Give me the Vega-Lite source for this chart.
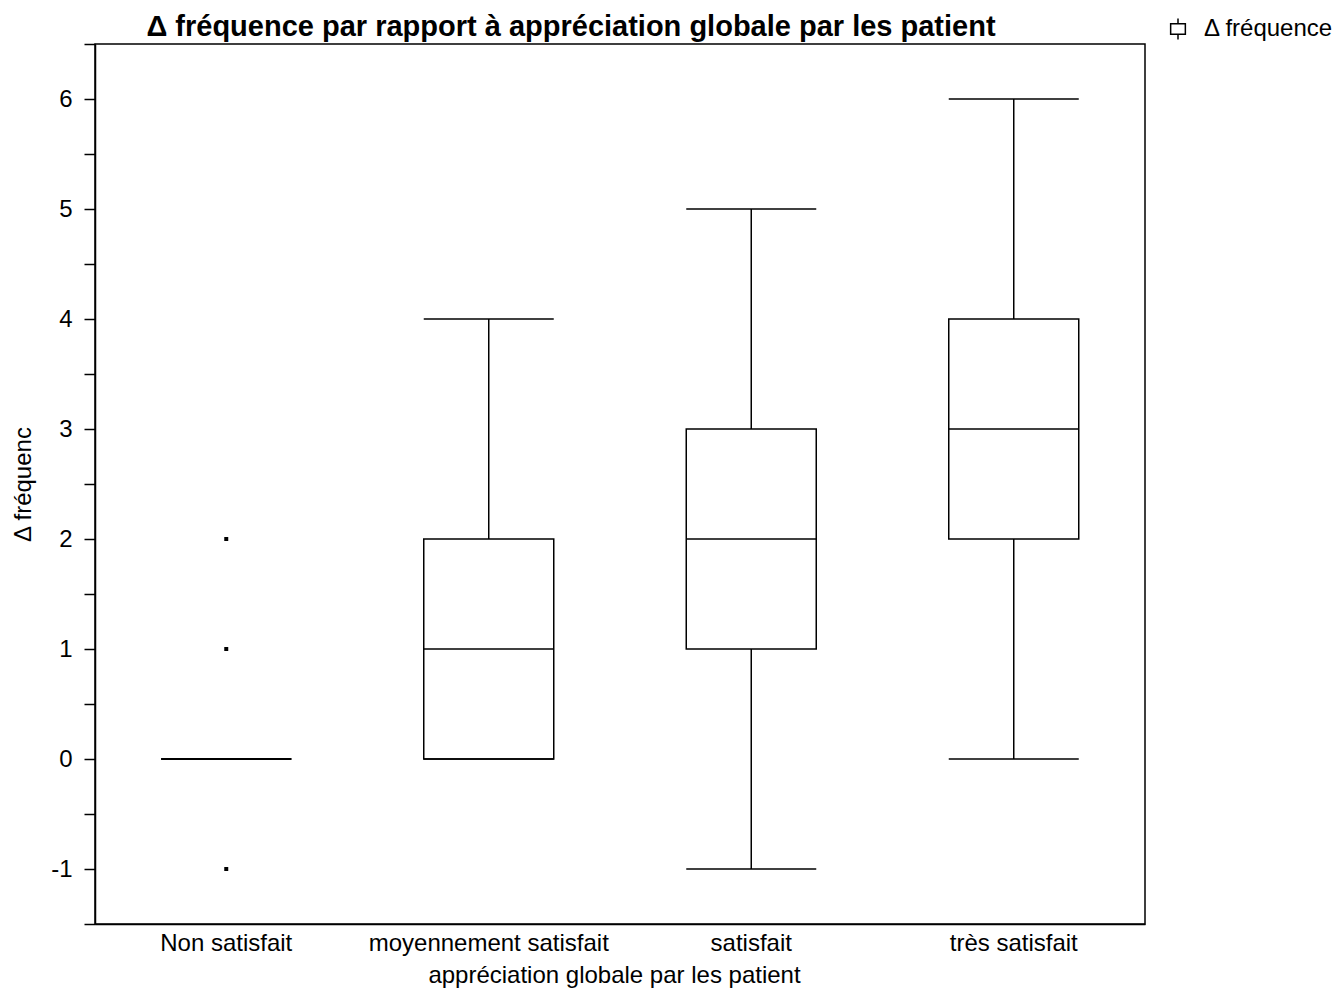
{
  "$schema": "https://vega.github.io/schema/vega-lite/v6.json",
  "width": 1050,
  "height": 880,
  "autosize": {"type": "none"},
  "padding": {"left": 95, "top": 44, "right": 188, "bottom": 65},
  "background": "white",
  "config": {
    "font": "Liberation Sans",
    "view": {"stroke": "black", "strokeWidth": 1.5},
    "axis": {"domainColor": "black", "tickColor": "black", "labelColor": "black", "titleColor": "black", "labelFont": "Liberation Sans", "titleFont": "Liberation Sans", "titleFontWeight": "normal", "grid": false, "domainWidth": 1.5, "tickWidth": 1.5}
  },
  "title": {
    "text": "Δ fréquence par rapport à appréciation globale par les patient",
    "font": "Liberation Sans",
    "fontSize": 29,
    "fontWeight": "bold",
    "color": "black",
    "anchor": "middle",
    "dx": -49,
    "offset": -25
  },
  "datasets": {
    "boxes": [
      {"cat": "Non satisfait", "lower": 0, "q1": 0, "median": 0, "q3": 0, "upper": 0},
      {"cat": "moyennement satisfait", "lower": 0, "q1": 0, "median": 1, "q3": 2, "upper": 4},
      {"cat": "satisfait", "lower": -1, "q1": 1, "median": 2, "q3": 3, "upper": 5},
      {"cat": "très satisfait", "lower": 0, "q1": 2, "median": 3, "q3": 4, "upper": 6}
    ],
    "outliers": [
      {"cat": "Non satisfait", "value": 2},
      {"cat": "Non satisfait", "value": 1},
      {"cat": "Non satisfait", "value": -1}
    ]
  },
  "encoding": {
    "x": {
      "field": "cat",
      "type": "nominal",
      "sort": ["Non satisfait", "moyennement satisfait", "satisfait", "très satisfait"],
      "scale": {"paddingInner": 0, "paddingOuter": 0},
      "axis": {
        "title": "appréciation globale par les patient",
        "labelAngle": 0,
        "ticks": false,
        "labelLimit": 0,
        "labelFontSize": 24,
        "titleFontSize": 24,
        "labelPadding": 7,
        "titlePadding": 8,
        "titleX": 519
      }
    }
  },
  "layer": [
    {
      "data": {"name": "boxes"},
      "mark": {"type": "rule", "strokeWidth": 1.5},
      "encoding": {
        "y": {
          "field": "lower",
          "type": "quantitative",
          "scale": {"domain": [-1.5, 6.5], "nice": false, "zero": false},
          "axis": {
            "title": "Δ fréquenc",
            "values": [-1.5, -1, -0.5, 0, 0.5, 1, 1.5, 2, 2.5, 3, 3.5, 4, 4.5, 5, 5.5, 6, 6.5],
            "labelExpr": "datum.value % 1 === 0 ? '' + datum.value : ''",
            "tickSize": 11,
            "labelFontSize": 24,
            "titleFontSize": 24,
            "labelPadding": 12,
            "titlePadding": 15,
            "encode": {"ticks": {"update": {"x2": {"signal": "datum.value % 1 === 0 ? -11 : -5"}}}}
          }
        },
        "y2": {"field": "upper"},
        "color": {
          "datum": "Δ fréquence",
          "scale": {"range": ["black"]},
          "legend": {
            "title": null,
            "orient": "none",
            "legendX": 1071,
            "legendY": -27,
            "symbolType": "M-0.7,-0.5H0.7V0.5H-0.7Z M0,-1V-0.5 M0,0.5V1",
            "symbolSize": 441,
            "symbolFillColor": "white",
            "symbolStrokeColor": "black",
            "symbolStrokeWidth": 1.5,
            "labelFontSize": 24,
            "labelColor": "black",
            "labelFont": "Liberation Sans",
            "labelOffset": 14
          }
        }
      }
    },
    {
      "data": {"name": "boxes"},
      "mark": {"type": "bar", "size": 130, "fill": "white", "stroke": "black", "strokeWidth": 1.5},
      "encoding": {
        "y": {"field": "q1", "type": "quantitative"},
        "y2": {"field": "q3"}
      }
    },
    {
      "data": {"name": "boxes"},
      "mark": {"type": "tick", "size": 130, "thickness": 1.5, "color": "black", "opacity": 1},
      "encoding": {"y": {"field": "median", "type": "quantitative"}}
    },
    {
      "data": {"name": "boxes"},
      "mark": {"type": "tick", "size": 130, "thickness": 1.5, "color": "black", "opacity": 1},
      "encoding": {"y": {"field": "lower", "type": "quantitative"}}
    },
    {
      "data": {"name": "boxes"},
      "mark": {"type": "tick", "size": 130, "thickness": 1.5, "color": "black", "opacity": 1},
      "encoding": {"y": {"field": "upper", "type": "quantitative"}}
    },
    {
      "data": {"name": "outliers"},
      "mark": {"type": "point", "shape": "square", "size": 16, "filled": true, "color": "black", "opacity": 1},
      "encoding": {"y": {"field": "value", "type": "quantitative"}}
    }
  ]
}
